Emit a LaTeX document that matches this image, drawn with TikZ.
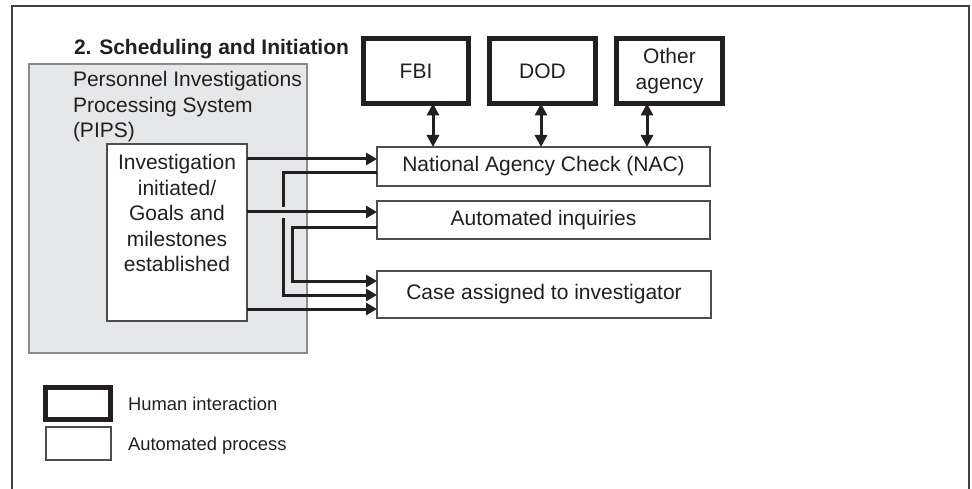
\documentclass[tikz,border=0pt]{standalone}
\usepackage{fontspec}
\setmainfont{Liberation Sans}
\usetikzlibrary{arrows.meta}
\definecolor{ink}{HTML}{231F20}
\definecolor{pipsfill}{HTML}{E6E7E8}
\definecolor{pipsedge}{HTML}{8C8C8C}
\tikzset{
  txt/.style={inner sep=0pt, outer sep=0pt, text=ink, font=\fontsize{21}{25.5}\selectfont},
  legtxt/.style={inner sep=0pt, outer sep=0pt, text=ink, font=\fontsize{18.4}{22}\selectfont},
  humanbox/.style={draw=ink, line width=5pt, fill=white, inner sep=0pt, outer sep=0pt,
    text=ink, font=\fontsize{21}{25.5}\selectfont, align=center},
  autobox/.style={draw=ink!80, line width=1.4pt, fill=white, inner sep=0pt, outer sep=0pt,
    text=ink, font=\fontsize{21}{25.5}\selectfont, align=center},
  conn/.style={draw=ink, line width=3pt, line join=miter},
  arr/.style={conn, -{Triangle[length=11pt,width=12pt]}},
  darr/.style={conn, {Triangle[length=12pt,width=12pt]}-{Triangle[length=12pt,width=12pt]}},
}
\begin{document}
\begin{tikzpicture}[x=1pt,y=-1pt]
\useasboundingbox (0,0) rectangle (972,489);
% outer frame, open at the bottom
\draw[ink!85, line width=1.5pt] (12,489) -- (12,6) -- (969,6) -- (969,489);

% title
\node[txt, font=\bfseries\fontsize{21}{25.5}\selectfont, anchor=base west] (title) at (74,54.5) {2. Scheduling and Initiation};

% PIPS system area
\node[draw=pipsedge, fill=pipsfill, line width=1.3pt, inner sep=0pt, outer sep=0pt,
      minimum width=278pt, minimum height=289pt] (pips) at (168,208.5) {};
\node[txt, anchor=north west, align=left] (pipstext) at (73,71.5)
  {Personnel Investigations\\Processing System\\(PIPS)};

% investigation box inside PIPS
\node[autobox, minimum width=140pt, minimum height=177pt] (inv) at (177,232.5) {};
\node[txt, anchor=north, align=center] (invtext) at (177,154.5)
  {Investigation\\initiated/\\Goals and\\milestones\\established};

% agencies (human interaction)
\node[humanbox, minimum width=105pt, minimum height=65pt] (fbi) at (416,71) {FBI};
\node[humanbox, minimum width=106pt, minimum height=65pt] (dod) at (542.5,71) {DOD};
\node[humanbox, minimum width=106pt, minimum height=65pt] (oth) at (669.5,71) {Other\\agency};

% automated processes
\node[autobox, minimum width=333pt, minimum height=39pt] (nac) at (543.5,166.5) {National Agency Check (NAC)};
\node[autobox, minimum width=333pt, minimum height=38pt] (ai) at (543.5,220) {Automated inquiries};
\node[autobox, minimum width=334pt, minimum height=47pt] (case) at (544,294.5) {Case assigned to investigator};

% agency exchanges with NAC
\draw[darr] (fbi.south -| 433,0) -- (nac.north -| 433,0);
\draw[darr] (dod.south -| 541,0) -- (nac.north -| 541,0);
\draw[darr] (oth.south -| 647,0) -- (nac.north -| 647,0);

% investigation box outputs
\draw[arr] (inv.east |- 0,159) -- (nac.west |- 0,159);
\draw[arr] (inv.east |- 0,212) -- (ai.west |- 0,212);
\draw[arr] (inv.east |- 0,309) -- (case.west |- 0,309);

% NAC result to case assignment (broken where it crosses the inquiries line)
\coordinate (jumpa) at (283,207);
\coordinate (jumpb) at (283,218);
\draw[conn] (nac.west |- 0,173) -- (283,173) -- (jumpa);
\draw[arr] (jumpb) -- (283,295) -- (case.west |- 0,295);

% automated inquiries result to case assignment
\draw[arr] (ai.west |- 0,228) -- (292,228) -- (292,281) -- (case.west |- 0,281);

% legend
\node[draw=ink, line width=5pt, inner sep=0pt, outer sep=0pt, minimum width=65pt, minimum height=32pt] (leghuman) at (78,403.5) {};
\node[autobox, minimum width=65pt, minimum height=33pt] (legauto) at (78.5,443.5) {};
\node[legtxt, anchor=base west] (leghumantext) at (128,410) {Human interaction};
\node[legtxt, anchor=base west] (legautotext) at (128,450) {Automated process};
\end{tikzpicture}
\end{document}
